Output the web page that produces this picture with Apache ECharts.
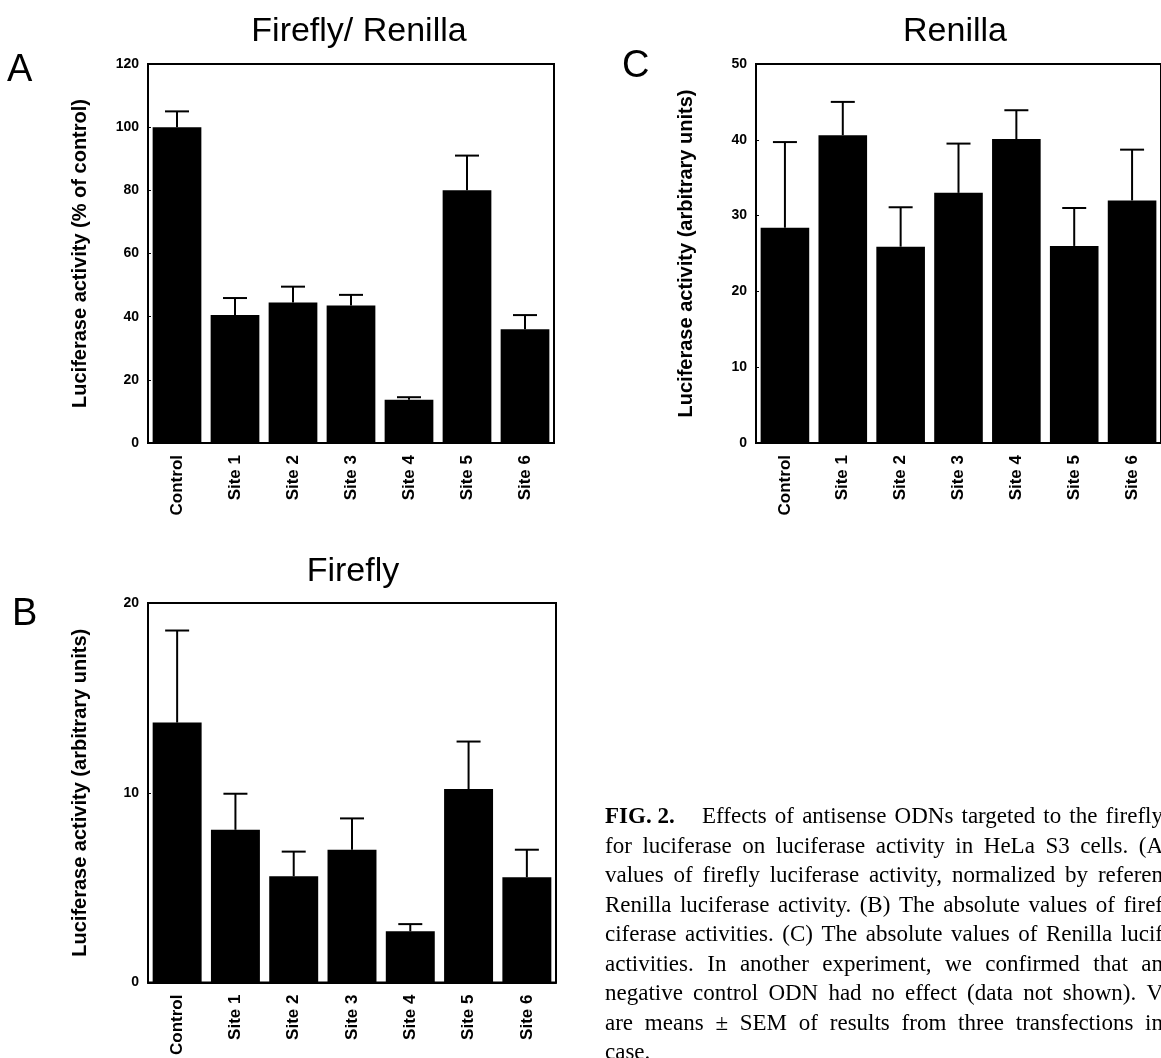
<!DOCTYPE html>
<html>
<head>
<meta charset="utf-8">
<script src="https://cdn.jsdelivr.net/npm/echarts@6/dist/echarts.min.js"></script>
<style>
  html, body { margin: 0; padding: 0; background: #fff; }
  #box { width: 1161px; height: 1058px; }
</style>
</head>
<body>
<div id="box"></div>
<script>
// categories shared by the three panels
var sites = ['Control', 'Site 1', 'Site 2', 'Site 3', 'Site 4', 'Site 5', 'Site 6'];

// A: firefly / renilla, % of control (mean and SEM)
var ratioMean = [100, 40.5, 44.5, 43.5, 13.7, 80, 36];
var ratioErr = [5, 5.4, 5, 3.4, 0.8, 11, 4.5];

// B: firefly, arbitrary units
var fireflyMean = [13.7, 8.05, 5.6, 7.0, 2.7, 10.2, 5.55];
var fireflyErr = [4.85, 1.9, 1.3, 1.65, 0.38, 2.5, 1.45];

// C: renilla, arbitrary units
var renillaMean = [28.4, 40.6, 25.9, 33.0, 40.1, 26.0, 32.0];
var renillaErr = [11.3, 4.4, 5.2, 6.5, 3.8, 5.0, 6.7];

var captionLines = [
    'Effects of antisense ODNs targeted to the firefly',
    'for luciferase on luciferase activity in HeLa S3 cells. (A',
    'values of firefly luciferase activity, normalized by referen',
    'Renilla luciferase activity. (B) The absolute values of firef',
    'ciferase activities. (C) The absolute values of Renilla lucif',
    'activities. In another experiment, we confirmed that an',
    'negative control ODN had no effect (data not shown). V',
    'are means \u00b1 SEM of results from three transfections in',
    'case.'
];

var sans = '"Liberation Sans", Arial, sans-serif';
var serif = '"Liberation Serif", "Times New Roman", serif';

var myChart = echarts.init(document.getElementById('box'));

function xAxisFor(gi) {
    return {
        type: 'category',
        gridIndex: gi,
        data: sites,
        axisLine: { lineStyle: { color: '#000', width: 2 } },
        axisTick: { show: false },
        axisLabel: {
            rotate: 90,
            interval: 0,
            margin: 12,
            color: '#000',
            fontFamily: sans,
            fontWeight: 'bold',
            fontSize: 17
        }
    };
}

function yAxisFor(gi, max, step, nameText, gap) {
    return {
        type: 'value',
        gridIndex: gi,
        min: 0,
        max: max,
        interval: step,
        name: nameText,
        nameLocation: 'middle',
        nameGap: gap,
        nameTextStyle: { color: '#000', fontFamily: sans, fontWeight: 'bold', fontSize: 20 },
        axisLine: { show: true, lineStyle: { color: '#000', width: 2 } },
        axisTick: { show: true, inside: true, length: 3, lineStyle: { color: '#000' } },
        splitLine: { show: false },
        axisLabel: { margin: 9, color: '#000', fontFamily: sans, fontWeight: 'bold', fontSize: 14 }
    };
}

function barSeries(gi, mean) {
    return {
        type: 'bar',
        xAxisIndex: gi,
        yAxisIndex: gi,
        data: mean,
        barWidth: '84%',
        itemStyle: { color: '#000' },
        silent: true
    };
}

// upward error bar with a cap, placed through the axes
function errSeries(gi, mean, err) {
    return {
        type: 'custom',
        xAxisIndex: gi,
        yAxisIndex: gi,
        z: 5,
        silent: true,
        data: mean.map(function (m, i) { return [i, m, err[i]]; }),
        renderItem: function (params, api) {
            var base = api.coord([api.value(0), api.value(1)]);
            var top = api.coord([api.value(0), api.value(1) + api.value(2)]);
            var st = { stroke: '#000', lineWidth: 2 };
            return {
                type: 'group',
                children: [
                    { type: 'line', shape: { x1: base[0], y1: base[1], x2: top[0], y2: top[1] }, style: st },
                    { type: 'line', shape: { x1: top[0] - 12, y1: top[1], x2: top[0] + 12, y2: top[1] }, style: st }
                ]
            };
        }
    };
}

// caption: justified lines cut by the right edge
var measure = document.createElement('canvas').getContext('2d');
function captionWords(text, x0, x1, y, justify) {
    var font = '23px ' + serif;
    measure.font = font;
    var words = text.split(' ');
    var widths = words.map(function (w) { return measure.measureText(w).width; });
    var total = widths.reduce(function (a, b) { return a + b; }, 0);
    var gap = measure.measureText(' ').width;
    if (justify && words.length > 1) {
        gap = Math.max(3, (x1 - x0 - total) / (words.length - 1));
    }
    var out = [];
    var x = x0;
    words.forEach(function (w, i) {
        out.push({ type: 'text', x: x, y: y, silent: true,
            style: { text: w, font: font, fill: '#000', verticalAlign: 'middle' } });
        x += widths[i] + gap;
    });
    return out;
}

var graphics = [
    { type: 'text', x: 7, y: 52, style: { text: 'A', font: '38px ' + sans, fill: '#000' } },
    { type: 'text', x: 12, y: 596, style: { text: 'B', font: '38px ' + sans, fill: '#000' } },
    { type: 'text', x: 622, y: 48, style: { text: 'C', font: '38px ' + sans, fill: '#000' } },
    { type: 'text', x: 605, y: 817, style: { text: 'FIG. 2.', font: 'bold 23px ' + serif, fill: '#000', verticalAlign: 'middle' } }
];
captionLines.forEach(function (line, i) {
    var y = 817 + i * 29.5;
    var x0 = i === 0 ? 702 : 605;
    graphics = graphics.concat(captionWords(line, x0, 1163, y, i < captionLines.length - 1));
});

myChart.setOption({
    backgroundColor: '#fff',
    animation: false,
    title: [
        { text: 'Firefly/ Renilla', left: 354, top: 10, textAlign: 'center',
          textStyle: { fontFamily: sans, fontWeight: 'normal', fontSize: 34, color: '#000' } },
        { text: 'Firefly', left: 348, top: 550, textAlign: 'center',
          textStyle: { fontFamily: sans, fontWeight: 'normal', fontSize: 34, color: '#000' } },
        { text: 'Renilla', left: 950, top: 10, textAlign: 'center',
          textStyle: { fontFamily: sans, fontWeight: 'normal', fontSize: 34, color: '#000' } }
    ],
    grid: [
        { left: 148, top: 64, width: 406, height: 379, show: true, borderColor: '#000', borderWidth: 2 },
        { left: 148, top: 603, width: 408, height: 380, show: true, borderColor: '#000', borderWidth: 2 },
        { left: 756, top: 64, width: 407, height: 379, show: true, borderColor: '#000', borderWidth: 2 }
    ],
    xAxis: [xAxisFor(0), xAxisFor(1), xAxisFor(2)],
    yAxis: [
        yAxisFor(0, 120, 20, 'Luciferase activity (% of control)', 58),
        yAxisFor(1, 20, 10, 'Luciferase activity (arbitrary units)', 58),
        yAxisFor(2, 50, 10, 'Luciferase activity (arbitrary units)', 60)
    ],
    series: [
        barSeries(0, ratioMean), errSeries(0, ratioMean, ratioErr),
        barSeries(1, fireflyMean), errSeries(1, fireflyMean, fireflyErr),
        barSeries(2, renillaMean), errSeries(2, renillaMean, renillaErr)
    ],
    graphic: graphics
});
</script>
</body>
</html>
